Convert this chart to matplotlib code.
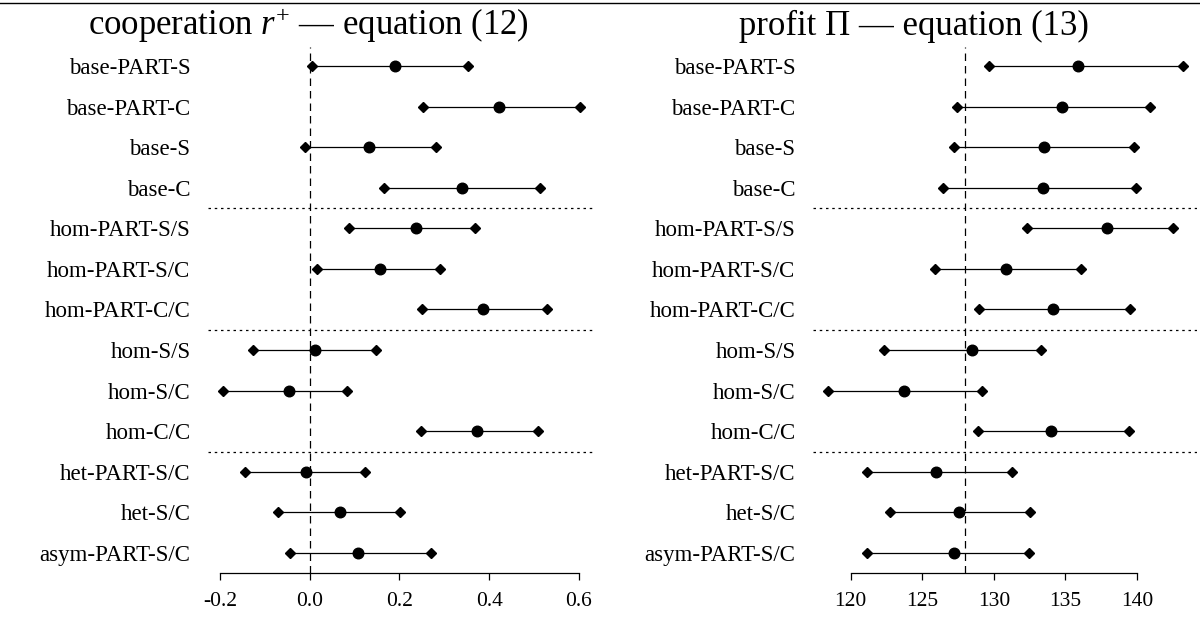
import matplotlib
matplotlib.use("Agg")
import matplotlib.pyplot as plt
from matplotlib.lines import Line2D
import numpy as np

plt.rcParams['font.family'] = ['Liberation Serif', 'DejaVu Serif']
plt.rcParams['mathtext.fontset'] = 'custom'
plt.rcParams['mathtext.rm'] = 'Liberation Serif'
plt.rcParams['mathtext.it'] = 'Liberation Serif:italic'

treatments = ["base-PART-S", "base-PART-C", "base-S", "base-C",
              "hom-PART-S/S", "hom-PART-S/C", "hom-PART-C/C",
              "hom-S/S", "hom-S/C", "hom-C/C",
              "het-PART-S/C", "het-S/C", "asym-PART-S/C"]

# cooperation r+ : lower bound, estimate, upper bound
coop_lo = [0.006, 0.252, -0.011, 0.165, 0.088, 0.017, 0.251,
           -0.127, -0.194, 0.249, -0.144, -0.070, -0.045]
coop_est = [0.190, 0.423, 0.133, 0.339, 0.237, 0.156, 0.386,
            0.011, -0.047, 0.372, -0.008, 0.068, 0.107]
coop_hi = [0.352, 0.603, 0.282, 0.513, 0.369, 0.291, 0.528,
           0.148, 0.084, 0.509, 0.124, 0.201, 0.271]

# profit Pi : lower bound, estimate, upper bound
profit_lo = [129.66, 127.43, 127.24, 126.42, 132.33, 125.86, 128.97,
             122.34, 118.40, 128.89, 121.15, 122.77, 121.12]
profit_est = [135.87, 134.78, 133.52, 133.42, 137.89, 130.86, 134.14,
              128.47, 123.70, 133.98, 125.96, 127.56, 127.19]
profit_hi = [143.19, 140.93, 139.78, 139.91, 142.52, 136.08, 139.49,
             133.31, 129.19, 139.41, 131.29, 132.54, 132.46]

coop_ticks = [-0.2, 0.0, 0.2, 0.4, 0.6]
coop_ticklabels = ["-0.2", "0.0", "0.2", "0.4", "0.6"]
profit_ticks = [120, 125, 130, 135, 140]

coop_ref = 0.0
profit_ref = 128.0
group_breaks = [4.5, 7.5, 10.5]

W, H = 1200, 626
fig = plt.figure(figsize=(W / 100, H / 100), dpi=100)


def panel(x0_px, x1_px, lo, est, hi, ref, ticks, ticklabels, title, title_x):
    ax = fig.add_axes([x0_px / W, (H - 572.5) / H,
                       (x1_px - x0_px) / W, 526 / H])
    y = np.arange(1, len(treatments) + 1)
    for yi, a, m, b in zip(y, lo, est, hi):
        ax.plot([a, b], [yi, yi], color='k', lw=0.9, zorder=2)
        ax.plot([a, b], [yi, yi], ls='none', marker='D', ms=4.6,
                color='k', zorder=3)
        ax.plot(m, yi, ls='none', marker='o', ms=7.6, color='k', zorder=4)

    # pad the range by 4% on each side
    span = max(hi) - min(lo)
    ax.set_xlim(min(lo) - 0.04 * span, max(hi) + 0.04 * span)
    ax.set_ylim(len(treatments) + 0.48, 0.52)

    ax.axvline(ref, color='k', lw=0.9, ls=(0, (6, 4)), zorder=1)
    for yb in group_breaks:
        ax.axhline(yb, color='k', lw=0.9, ls=(0, (2, 3)), zorder=1)

    for side in ['top', 'right', 'left']:
        ax.spines[side].set_visible(False)
    ax.spines['bottom'].set_bounds(ticks[0], ticks[-1])
    ax.spines['bottom'].set_linewidth(0.9)

    ax.set_xticks(ticks)
    ax.set_xticklabels(ticklabels)
    ax.tick_params(axis='x', direction='out', length=5, width=0.9,
                   labelsize=15.5, pad=9)
    ax.set_yticks(y)
    ax.set_yticklabels(treatments)
    ax.tick_params(axis='y', length=0, labelsize=16.5, pad=13)

    fig.text(title_x / W, 1 - 35 / H, title, ha='center', va='baseline',
             fontsize=25)
    return ax


panel(208.5, 594.5, coop_lo, coop_est, coop_hi, coop_ref,
      coop_ticks, coop_ticklabels,
      r"cooperation $r^{+}$ — equation (12)", 308)
panel(813.5, 1197, profit_lo, profit_est, profit_hi, profit_ref,
      profit_ticks, [str(t) for t in profit_ticks],
      "profit Π — equation (13)", 914)

# rule across the top
fig.add_artist(Line2D([0, 1], [1 - 3 / H, 1 - 3 / H], color='k', lw=1.0,
                      transform=fig.transFigure))

fig.savefig("out.png", dpi=100)
